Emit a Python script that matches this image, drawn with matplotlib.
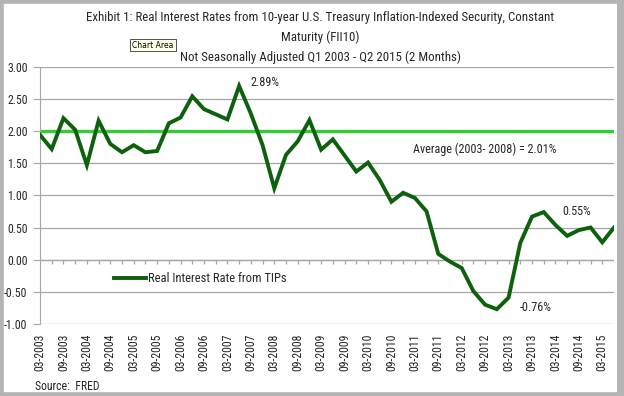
import numpy as np
import matplotlib
matplotlib.use("Agg")
import matplotlib.pyplot as plt
from matplotlib.patches import Rectangle

plt.rcParams['font.family'] = ['Roboto Condensed', 'Liberation Sans Narrow', 'Roboto', 'DejaVu Sans']

# quarterly observations, Q1 2003 .. Q2 2015
quarters = ["%02d-%d" % (m, y) for y in range(2003, 2016) for m in (3, 6, 9, 12)][:50]
real_rate = [1.94, 1.72, 2.20, 2.02, 1.47, 2.16, 1.80, 1.67, 1.78, 1.67,
             1.69, 2.12, 2.21, 2.54, 2.34, 2.26, 2.18, 2.70, 2.27, 1.78,
             1.11, 1.63, 1.84, 2.17, 1.71, 1.87, 1.62, 1.37, 1.51, 1.24,
             0.90, 1.04, 0.96, 0.75, 0.09, -0.03, -0.13, -0.49, -0.70, -0.77,
             -0.59, 0.26, 0.67, 0.74, 0.54, 0.37, 0.46, 0.50, 0.27, 0.50]
average_0308 = 2.0
yticks = [3.0, 2.5, 2.0, 1.5, 1.0, 0.5, 0.0, -0.5, -1.0]

dark_green = '#0d610d'
light_green = '#33cc33'
grid_gray = '#a6a6a6'
txt = '#262626'

fig = plt.figure(figsize=(6.24, 3.96), dpi=100)
ax = fig.add_axes([40/624, 1-324/396, 574/624, (324-66.7)/396])

x = np.arange(len(real_rate))
ax.axhline(average_0308, color=light_green, lw=2.4, zorder=2)
ax.plot(x, real_rate, color=dark_green, lw=2.8, zorder=3,
        label='Real Interest Rate from TIPs', solid_joinstyle='miter')

ax.set_xlim(0, len(real_rate) - 1)
ax.set_ylim(-1.0, 3.0)
ax.set_yticks(yticks)
ax.set_yticklabels(['%.2f' % v for v in yticks], fontsize=8.5, color=txt)
ax.yaxis.grid(True, color=grid_gray, lw=0.9)
ax.set_axisbelow(True)
ax.tick_params(axis='y', length=5, color=grid_gray, pad=4)

# category labels every half-year at the bottom
ax.set_xticks(x[::2])
ax.set_xticklabels(quarters[::2], rotation=90, fontsize=8.5, color=txt)
ax.tick_params(axis='x', length=0, pad=7)

# horizontal axis line at zero with quarterly tick marks
ax.axhline(0, color=grid_gray, lw=0.9, zorder=1)
ax.vlines(x[1:], -0.07, 0, color=grid_gray, lw=0.9, zorder=1)

for s in ['top', 'right', 'bottom']:
    ax.spines[s].set_visible(False)
ax.spines['left'].set_color(grid_gray)

leg = ax.legend(loc='upper left', bbox_to_anchor=(0.12, 0.22), frameon=False,
                fontsize=9, handlelength=2.6, handletextpad=0.1, borderaxespad=0)
for t in leg.get_texts():
    t.set_color(txt)

ax.text(19.2, 2.76, '2.89%', ha='center', va='center', fontsize=8.7, color=txt)
ax.text(38.0, 1.72, 'Average (2003- 2008) = 2.01%', ha='center', va='center',
        fontsize=8.7, color=txt)
ax.text(45.8, 0.75, '0.55%', ha='center', va='center', fontsize=8.7, color=txt)
ax.text(42.3, -0.75, '-0.76%', ha='center', va='center', fontsize=8.7, color=txt)

fig.text(320/624, 1-17/396, 'Exhibit 1: Real Interest Rates from 10-year U.S. Treasury '
         'Inflation-Indexed Security, Constant', ha='center', va='center', fontsize=9.3,
         color=txt)
fig.text(320/624, 1-37/396, 'Maturity (FII10)', ha='center', va='center', fontsize=9.3,
         color=txt)
fig.text(320/624, 1-57/396, 'Not Seasonally Adjusted Q1 2003 - Q2 2015 (2 Months)',
         ha='center', va='center', fontsize=9.3, color=txt)
fig.text(153/624, 1-45/396, 'Chart Area', ha='center', va='center', fontsize=5.5,
         family='DejaVu Sans',
         bbox=dict(boxstyle='square,pad=0.25', fc='#ffffe6', ec='#333333', lw=0.6))
fig.text(35/624, 1-386/396, 'Source:  FRED', ha='left', va='center', fontsize=8.5,
         color=txt)

# gray frame around the picture
fig.patches.append(Rectangle((0, 0), 1, 1, transform=fig.transFigure, fill=False,
                             ec='#b4b4b4', lw=5.5))
fig.patches.append(Rectangle((617/624, 0), 7/624, 1, transform=fig.transFigure,
                             fc='#b4b4b4', ec='none'))

fig.savefig('out.png', dpi=100)
